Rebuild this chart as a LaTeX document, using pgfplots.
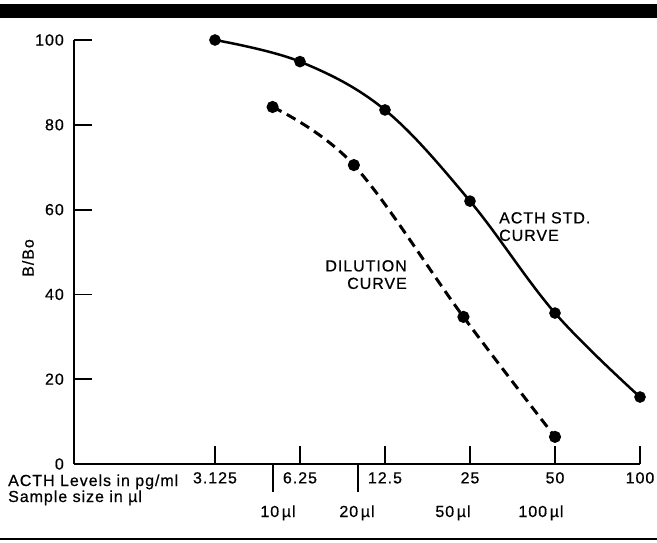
\documentclass[border=0pt]{standalone}
\usepackage{fontspec}
\setmainfont{Liberation Sans}[LetterSpace=6, FakeBold=0.6]
\usepackage{pgfplots}
\pgfplotsset{compat=1.18}

\begin{document}
\begin{tikzpicture}[x=1pt,y=1pt,font=\fontsize{16}{17.5}\selectfont]
\useasboundingbox (0,0) rectangle (657,542);
% rule at top and bottom of the figure
\fill[black] (0,524) rectangle (657,538);
\draw[line width=2pt] (0,3) -- (657,3);

\begin{axis}[
  at={(74pt,78pt)}, anchor=south west,
  scale only axis, width=566pt, height=424pt,
  xmode=log, log basis x=2,
  xmin=0.99, xmax=100, ymin=0, ymax=100,
  axis lines*=left,
  axis line style={line width=2pt},
  tick align=inside,
  major tick length=18pt,
  every tick/.style={black, line width=1.8pt},
  xtick={3.125,6.25,12.5,25,50,100},
  xticklabels={3.125,6.25,12.5,25,50,100},
  xminorticks=false,
  ytick={0,20,...,100},
  /pgf/number format/assume math mode=true,
  xticklabel style={anchor=north, inner sep=0pt, yshift=-8pt},
  yticklabel style={anchor=east, inner sep=0pt, xshift=-10pt},
  clip=false,
]
% ACTH standard curve
\addplot[black, line width=2.5pt, smooth, tension=0.6, mark=*, mark size=4.5pt]
  coordinates {(3.125,100) (6.25,94.9) (12.5,83.5) (25,62.0) (50,35.6) (100,15.8)};
% dilution curve
\addplot[black, line width=3pt, dash pattern=on 10pt off 6pt, smooth, tension=0.6,
  mark=*, mark size=4.5pt, mark options={solid}]
  coordinates {(5,84.2) (9.7,70.5) (23.7,34.7) (50,6.4)};
% sample size ticks below the axis
\draw[line width=1.8pt] (axis cs:5,0) -- ([yshift=-28pt]axis cs:5,0);
\draw[line width=1.8pt] (axis cs:10,0) -- ([yshift=-28pt]axis cs:10,0);
\end{axis}

\node[anchor=base west, inner sep=0] at (8,56) {ACTH Levels in pg/ml};
\node[anchor=base west, inner sep=0] at (8,40) {Sample size in µl};
\node[rotate=90] at (28,284) {B/Bo};
\node[anchor=base] at (278,25) {10\,µl};
\node[anchor=base] at (357,25) {20\,µl};
\node[anchor=base] at (453,25) {50\,µl};
\node[anchor=base] at (541,25) {100\,µl};
\node[anchor=north west, align=left, inner sep=0] at (499,330) {ACTH STD.\\CURVE};
\node[anchor=north east, align=right, inner sep=0] at (407,282) {DILUTION\\CURVE};
\end{tikzpicture}
\end{document}
